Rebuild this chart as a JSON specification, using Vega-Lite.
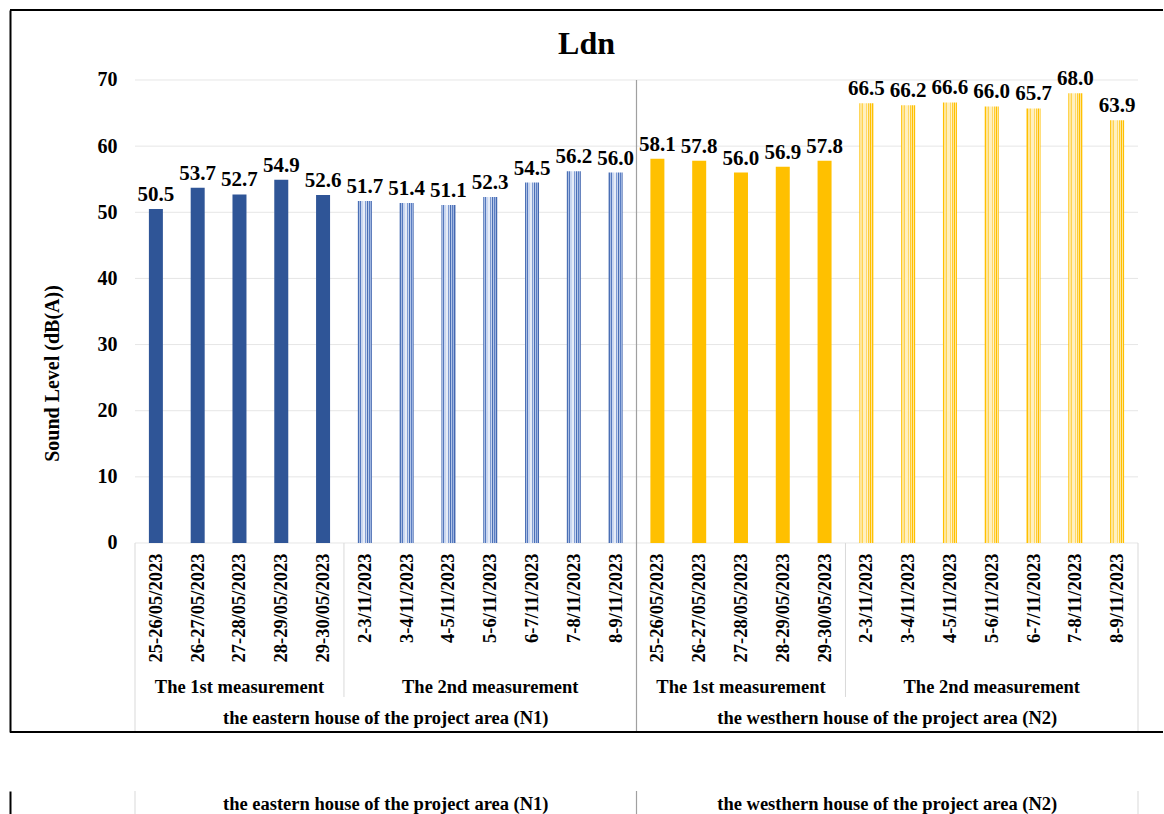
{
  "$schema": "https://vega.github.io/schema/vega-lite/v6.json",
  "padding": {"left": 9, "top": 9, "right": 0, "bottom": 0},
  "spacing": 57,
  "config": {"view": {"stroke": null}, "font": "Liberation Serif", "text": {"font": "Liberation Serif"}},
  "datasets": {
    "bars": [
      {"key": "N1 1|25-26/05/2023", "series": "N1 1", "value": 50.5},
      {"key": "N1 1|26-27/05/2023", "series": "N1 1", "value": 53.7},
      {"key": "N1 1|27-28/05/2023", "series": "N1 1", "value": 52.7},
      {"key": "N1 1|28-29/05/2023", "series": "N1 1", "value": 54.9},
      {"key": "N1 1|29-30/05/2023", "series": "N1 1", "value": 52.6},
      {"key": "N1 2|2-3/11/2023", "series": "N1 2", "value": 51.7},
      {"key": "N1 2|3-4/11/2023", "series": "N1 2", "value": 51.4},
      {"key": "N1 2|4-5/11/2023", "series": "N1 2", "value": 51.1},
      {"key": "N1 2|5-6/11/2023", "series": "N1 2", "value": 52.3},
      {"key": "N1 2|6-7/11/2023", "series": "N1 2", "value": 54.5},
      {"key": "N1 2|7-8/11/2023", "series": "N1 2", "value": 56.2},
      {"key": "N1 2|8-9/11/2023", "series": "N1 2", "value": 56.0},
      {"key": "N2 1|25-26/05/2023", "series": "N2 1", "value": 58.1},
      {"key": "N2 1|26-27/05/2023", "series": "N2 1", "value": 57.8},
      {"key": "N2 1|27-28/05/2023", "series": "N2 1", "value": 56.0},
      {"key": "N2 1|28-29/05/2023", "series": "N2 1", "value": 56.9},
      {"key": "N2 1|29-30/05/2023", "series": "N2 1", "value": 57.8},
      {"key": "N2 2|2-3/11/2023", "series": "N2 2", "value": 66.5},
      {"key": "N2 2|3-4/11/2023", "series": "N2 2", "value": 66.2},
      {"key": "N2 2|4-5/11/2023", "series": "N2 2", "value": 66.6},
      {"key": "N2 2|5-6/11/2023", "series": "N2 2", "value": 66.0},
      {"key": "N2 2|6-7/11/2023", "series": "N2 2", "value": 65.7},
      {"key": "N2 2|7-8/11/2023", "series": "N2 2", "value": 68.0},
      {"key": "N2 2|8-9/11/2023", "series": "N2 2", "value": 63.9}
    ],
    "grid": [{"g": 0}, {"g": 10}, {"g": 20}, {"g": 30}, {"g": 40}, {"g": 50}, {"g": 60}, {"g": 70}],
    "groups": [
      {"level": 2, "label": "The 1st measurement", "anchor": "N1 1|27-28/05/2023"},
      {"level": 2, "label": "The 2nd measurement", "anchor": "N1 2|5-6/11/2023"},
      {"level": 2, "label": "The 1st measurement", "anchor": "N2 1|27-28/05/2023"},
      {"level": 2, "label": "The 2nd measurement", "anchor": "N2 2|5-6/11/2023"},
      {"level": 3, "label": "the eastern house of the project area (N1)", "anchor": "N1 2|3-4/11/2023"},
      {"level": 3, "label": "the westhern house of the project area (N2)", "anchor": "N2 2|3-4/11/2023"}
    ]
  },
  "vconcat": [
    {
      "width": 1153,
      "height": 722,
      "title": {"text": "Ldn", "fontSize": 32, "font": "Liberation Serif", "fontWeight": "bold", "color": "#000000", "anchor": "middle", "frame": "group", "offset": -52},
      "layer": [
        {
          "data": {"name": "grid"},
          "mark": {"type": "rule", "color": "#E6E6E6", "strokeWidth": 1},
          "encoding": {
            "x": {"datum": "N1 1|25-26/05/2023", "type": "nominal", "bandPosition": 0, "scale": {"type": "band", "domain": ["N1 1|25-26/05/2023","N1 1|26-27/05/2023","N1 1|27-28/05/2023","N1 1|28-29/05/2023","N1 1|29-30/05/2023","N1 2|2-3/11/2023","N1 2|3-4/11/2023","N1 2|4-5/11/2023","N1 2|5-6/11/2023","N1 2|6-7/11/2023","N1 2|7-8/11/2023","N1 2|8-9/11/2023","N2 1|25-26/05/2023","N2 1|26-27/05/2023","N2 1|27-28/05/2023","N2 1|28-29/05/2023","N2 1|29-30/05/2023","N2 2|2-3/11/2023","N2 2|3-4/11/2023","N2 2|4-5/11/2023","N2 2|5-6/11/2023","N2 2|6-7/11/2023","N2 2|7-8/11/2023","N2 2|8-9/11/2023"], "range": [125, 1128], "paddingInner": 0, "paddingOuter": 0}},
            "x2": {"datum": "N2 2|8-9/11/2023", "bandPosition": 1},
            "y": {"field": "g", "type": "quantitative", "scale": {"domain": [-28.575, 80.583], "nice": false, "zero": false}}
          }
        },
        {
          "data": {"values": [{}]},
          "mark": {"type": "rule", "color": "#D9D9D9", "strokeWidth": 1},
          "encoding": {
            "x": {"datum": "N1 1|25-26/05/2023", "type": "nominal", "bandPosition": 0},
            "y": {"datum": 0, "type": "quantitative"},
            "y2": {"datum": -28.575}
          }
        },
        {
          "data": {"values": [{}]},
          "mark": {"type": "rule", "color": "#D9D9D9", "strokeWidth": 1},
          "encoding": {
            "x": {"datum": "N2 2|8-9/11/2023", "type": "nominal", "bandPosition": 1},
            "y": {"datum": 0, "type": "quantitative"},
            "y2": {"datum": -28.575}
          }
        },
        {
          "data": {"values": [{}]},
          "mark": {"type": "rule", "color": "#D9D9D9", "strokeWidth": 1},
          "encoding": {
            "x": {"datum": "N1 2|2-3/11/2023", "type": "nominal", "bandPosition": 0},
            "y": {"datum": 0, "type": "quantitative"},
            "y2": {"datum": -23.28}
          }
        },
        {
          "data": {"values": [{}]},
          "mark": {"type": "rule", "color": "#D9D9D9", "strokeWidth": 1},
          "encoding": {
            "x": {"datum": "N2 2|2-3/11/2023", "type": "nominal", "bandPosition": 0},
            "y": {"datum": 0, "type": "quantitative"},
            "y2": {"datum": -23.28}
          }
        },
        {
          "data": {"values": [{}]},
          "mark": {"type": "rule", "color": "#A0A0A0", "strokeWidth": 1.2},
          "encoding": {
            "x": {"datum": "N2 1|25-26/05/2023", "type": "nominal", "bandPosition": 0},
            "y": {"datum": 70, "type": "quantitative"},
            "y2": {"datum": -28.575}
          }
        },
        {
          "data": {"name": "bars"},
          "transform": [{"filter": "datum.series == 'N1 1'"}],
          "mark": {"type": "bar", "size": 14, "color": "#2F5597"},
          "encoding": {
            "x": {"field": "key", "type": "nominal", "axis": {"title": null, "labelExpr": "split(datum.value, '|')[1]", "labelAngle": 270, "labelAlign": "right", "labelBaseline": "middle", "labelPadding": 10, "ticks": false, "tickSize": 0, "domain": false, "grid": false, "offset": -189, "labelFontSize": 18.5, "labelFontWeight": "bold", "labelFont": "Liberation Serif", "labelColor": "#000000", "labelOverlap": false, "labelLimit": 0, "labelBound": false, "labelFlush": false}},
            "y": {"field": "value", "type": "quantitative", "axis": {"values": [0, 10, 20, 30, 40, 50, 60, 70], "title": "Sound Level (dB(A))", "domain": true, "domainColor": "#000000", "domainWidth": 2, "ticks": false, "tickSize": 0, "grid": false, "labelPadding": -107, "labelFont": "Liberation Serif", "labelFontWeight": "bold", "labelFontSize": 20, "labelColor": "#000000", "labelBound": false, "labelFlush": false, "titleFont": "Liberation Serif", "titleFontSize": 20, "titleFontWeight": "bold", "titleColor": "#000000", "titleX": 42, "titleY": 363, "titleBaseline": "middle", "titleAngle": 270}}
          }
        },
        {
          "data": {"name": "bars"},
          "transform": [{"filter": "datum.series == 'N1 2'"}],
          "mark": {"type": "bar", "size": 14, "color": {"gradient": "linear", "x1": 0, "y1": 0, "x2": 1, "y2": 0, "stops": [
            {"offset": 0, "color": "#4A6FB5"}, {"offset": 0.0714, "color": "#4A6FB5"},
            {"offset": 0.0714, "color": "#A9BDE3"}, {"offset": 0.1429, "color": "#A9BDE3"},
            {"offset": 0.1429, "color": "#5478BE"}, {"offset": 0.2143, "color": "#5478BE"},
            {"offset": 0.2143, "color": "#C9D6EF"}, {"offset": 0.3571, "color": "#C9D6EF"},
            {"offset": 0.3571, "color": "#E6ECF7"}, {"offset": 0.5, "color": "#E6ECF7"},
            {"offset": 0.5, "color": "#7F9BD2"}, {"offset": 0.5714, "color": "#7F9BD2"},
            {"offset": 0.5714, "color": "#C9D6EF"}, {"offset": 0.6429, "color": "#C9D6EF"},
            {"offset": 0.6429, "color": "#4A6FB5"}, {"offset": 0.7143, "color": "#4A6FB5"},
            {"offset": 0.7143, "color": "#B4C6E8"}, {"offset": 0.7857, "color": "#B4C6E8"},
            {"offset": 0.7857, "color": "#5A7DC2"}, {"offset": 0.8571, "color": "#5A7DC2"},
            {"offset": 0.8571, "color": "#9CB3DF"}, {"offset": 0.9286, "color": "#9CB3DF"},
            {"offset": 0.9286, "color": "#4468B0"}, {"offset": 1, "color": "#4468B0"}
          ]}},
          "encoding": {
            "x": {"field": "key", "type": "nominal"},
            "y": {"field": "value", "type": "quantitative"}
          }
        },
        {
          "data": {"name": "bars"},
          "transform": [{"filter": "datum.series == 'N2 1'"}],
          "mark": {"type": "bar", "size": 14, "color": "#FFC000"},
          "encoding": {
            "x": {"field": "key", "type": "nominal"},
            "y": {"field": "value", "type": "quantitative"}
          }
        },
        {
          "data": {"name": "bars"},
          "transform": [{"filter": "datum.series == 'N2 2'"}],
          "mark": {"type": "bar", "size": 14, "color": {"gradient": "linear", "x1": 0, "y1": 0, "x2": 1, "y2": 0, "stops": [
            {"offset": 0, "color": "#FFC000"}, {"offset": 0.0714, "color": "#FFC000"},
            {"offset": 0.0714, "color": "#FFE699"}, {"offset": 0.2143, "color": "#FFE699"},
            {"offset": 0.2143, "color": "#FFD34F"}, {"offset": 0.2857, "color": "#FFD34F"},
            {"offset": 0.2857, "color": "#FFF0C0"}, {"offset": 0.5, "color": "#FFF0C0"},
            {"offset": 0.5, "color": "#FFD966"}, {"offset": 0.5714, "color": "#FFD966"},
            {"offset": 0.5714, "color": "#FFF2CC"}, {"offset": 0.6429, "color": "#FFF2CC"},
            {"offset": 0.6429, "color": "#FFCC33"}, {"offset": 0.7143, "color": "#FFCC33"},
            {"offset": 0.7143, "color": "#FFE699"}, {"offset": 0.7857, "color": "#FFE699"},
            {"offset": 0.7857, "color": "#FFC000"}, {"offset": 0.8571, "color": "#FFC000"},
            {"offset": 0.8571, "color": "#FFE699"}, {"offset": 0.9286, "color": "#FFE699"},
            {"offset": 0.9286, "color": "#FFC000"}, {"offset": 1, "color": "#FFC000"}
          ]}},
          "encoding": {
            "x": {"field": "key", "type": "nominal"},
            "y": {"field": "value", "type": "quantitative"}
          }
        },
        {
          "data": {"name": "bars"},
          "mark": {"type": "text", "baseline": "alphabetic", "align": "center", "dy": -8, "fontSize": 21, "fontWeight": "bold", "font": "Liberation Serif", "color": "#000000"},
          "encoding": {
            "x": {"field": "key", "type": "nominal"},
            "y": {"field": "value", "type": "quantitative"},
            "text": {"field": "value", "type": "quantitative", "format": ".1f"}
          }
        },
        {
          "data": {"name": "groups"},
          "transform": [{"filter": "datum.level == 2"}],
          "mark": {"type": "text", "baseline": "alphabetic", "align": "center", "fontSize": 18.5, "fontWeight": "bold", "font": "Liberation Serif", "color": "#000000"},
          "encoding": {
            "x": {"field": "anchor", "type": "nominal", "bandPosition": 0.5},
            "y": {"datum": -22.68, "type": "quantitative"},
            "text": {"field": "label"}
          }
        },
        {
          "data": {"name": "groups"},
          "transform": [{"filter": "datum.level == 3"}],
          "mark": {"type": "text", "baseline": "alphabetic", "align": "center", "fontSize": 18.5, "fontWeight": "bold", "font": "Liberation Serif", "color": "#000000"},
          "encoding": {
            "x": {"field": "anchor", "type": "nominal", "bandPosition": 0},
            "y": {"datum": -27.37, "type": "quantitative"},
            "text": {"field": "label"}
          }
        },
        {
          "data": {"values": [{}]},
          "mark": {"type": "rule", "color": "#000000", "strokeWidth": 2},
          "encoding": {"y": {"datum": 80.583, "type": "quantitative"}}
        },
        {
          "data": {"values": [{}]},
          "mark": {"type": "rule", "color": "#000000", "strokeWidth": 2},
          "encoding": {"y": {"datum": -28.575, "type": "quantitative"}}
        }
      ]
    },
    {
      "width": 1153,
      "height": 23,
      "layer": [
        {
          "data": {"values": [{}]},
          "mark": {"type": "rule", "color": "#D9D9D9", "strokeWidth": 1},
          "encoding": {
            "x": {"datum": "N1 1|25-26/05/2023", "type": "nominal", "bandPosition": 0, "scale": {"type": "band", "domain": ["N1 1|25-26/05/2023","N1 1|26-27/05/2023","N1 1|27-28/05/2023","N1 1|28-29/05/2023","N1 1|29-30/05/2023","N1 2|2-3/11/2023","N1 2|3-4/11/2023","N1 2|4-5/11/2023","N1 2|5-6/11/2023","N1 2|6-7/11/2023","N1 2|7-8/11/2023","N1 2|8-9/11/2023","N2 1|25-26/05/2023","N2 1|26-27/05/2023","N2 1|27-28/05/2023","N2 1|28-29/05/2023","N2 1|29-30/05/2023","N2 2|2-3/11/2023","N2 2|3-4/11/2023","N2 2|4-5/11/2023","N2 2|5-6/11/2023","N2 2|6-7/11/2023","N2 2|7-8/11/2023","N2 2|8-9/11/2023"], "range": [125, 1128], "paddingInner": 0, "paddingOuter": 0}, "axis": null}
          }
        },
        {
          "data": {"values": [{}]},
          "mark": {"type": "rule", "color": "#D9D9D9", "strokeWidth": 1},
          "encoding": {"x": {"datum": "N2 2|8-9/11/2023", "type": "nominal", "bandPosition": 1, "axis": null}}
        },
        {
          "data": {"values": [{}]},
          "mark": {"type": "rule", "color": "#A0A0A0", "strokeWidth": 1.2},
          "encoding": {"x": {"datum": "N2 1|25-26/05/2023", "type": "nominal", "bandPosition": 0, "axis": null}}
        },
        {
          "data": {"name": "groups"},
          "transform": [{"filter": "datum.level == 3"}],
          "mark": {"type": "text", "baseline": "bottom", "align": "center", "fontSize": 18.5, "fontWeight": "bold", "font": "Liberation Serif", "color": "#000000"},
          "encoding": {
            "x": {"field": "anchor", "type": "nominal", "bandPosition": 0, "axis": null},
            "y": {"datum": 0, "type": "quantitative", "scale": {"domain": [0, 1], "nice": false, "zero": false}, "axis": {"domain": true, "domainColor": "#000000", "domainWidth": 2, "labels": false, "ticks": false, "tickSize": 0, "grid": false, "title": null}},
            "text": {"field": "label"}
          }
        }
      ]
    }
  ]
}
